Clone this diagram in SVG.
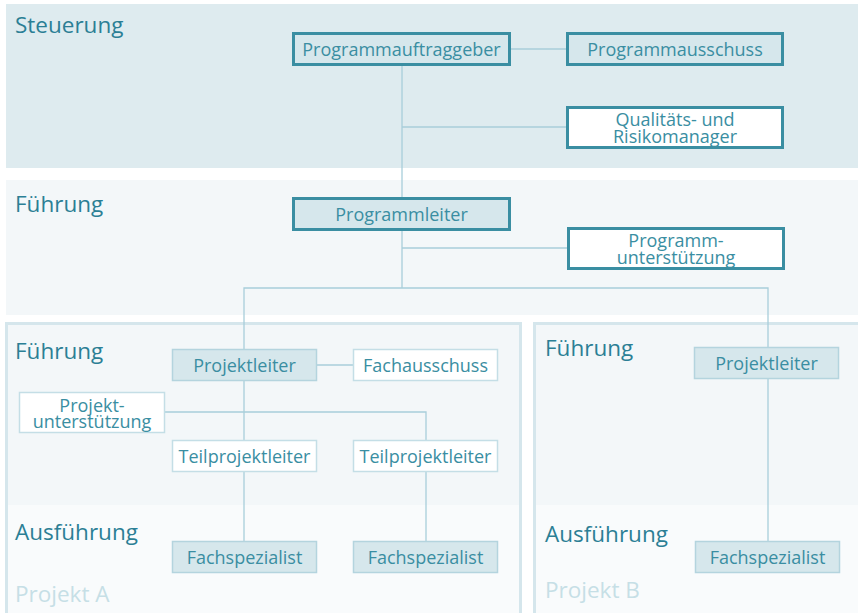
<svg xmlns="http://www.w3.org/2000/svg" width="858" height="613" viewBox="0 0 858 613">
<style>
text{font-family:"Open Sans","Noto Sans","DejaVu Sans",sans-serif;}
.h{font-size:22.5px;fill:#2b7f95;}
.pj{font-size:22.5px;fill:#c6dfe6;}
.t{font-size:18px;fill:#3a8ea2;text-anchor:middle;}
.t2{font-size:18px;fill:#3a8ea2;text-anchor:middle;}
.strong{fill:#d6e7ec;stroke:#3a8ea2;stroke-width:3;}
.strongw{fill:#ffffff;stroke:#3a8ea2;stroke-width:3;}
.soft{fill:#d6e7ec;stroke:#b4d4de;stroke-width:1.5;}
.softw{fill:#ffffff;stroke:#c4dee6;stroke-width:1.5;}
.ln{stroke:#a8ceda;stroke-width:1.3;fill:none;}
</style>
<rect width="858" height="613" fill="#ffffff"/>
<g id="bands">
<rect x="6" y="4" width="852" height="164" fill="#deebef"/>
<rect x="6" y="180" width="852" height="135" fill="#f3f7f9"/>
<rect x="6.5" y="323.5" width="514" height="300" fill="#f9fbfc" stroke="#d5e6ec" stroke-width="3"/>
<rect x="8" y="325" width="511" height="180" fill="#f3f7f9"/>
<rect x="534.5" y="323.5" width="330" height="300" fill="#f9fbfc" stroke="#d5e6ec" stroke-width="3"/>
<rect x="536" y="325" width="330" height="180" fill="#f3f7f9"/>
<text class="h" x="15" y="33">Steuerung</text>
<text class="h" x="15" y="212">Führung</text>
<text class="h" x="15" y="359">Führung</text>
<text class="h" x="15" y="540">Ausführung</text>
<text class="pj" x="15" y="602">Projekt A</text>
<text class="h" x="545" y="356">Führung</text>
<text class="h" x="545" y="542">Ausführung</text>
<text class="pj" x="545" y="598">Projekt B</text>
</g>
<g id="connectors">
<line class="ln" x1="510" y1="49" x2="566" y2="49"/>
<line class="ln" x1="402" y1="65" x2="402" y2="197"/>
<line class="ln" x1="402" y1="127" x2="566" y2="127"/>
<line class="ln" x1="402" y1="230" x2="402" y2="288"/>
<line class="ln" x1="402" y1="248" x2="567" y2="248"/>
<polyline class="ln" points="244,541 244,288 768,288 768,541"/>
<line class="ln" x1="316" y1="365" x2="353" y2="365"/>
<polyline class="ln" points="165,412 426,412 426,541"/>
</g>
<g id="programmauftraggeber"><rect class="strong" x="293.5" y="33.5" width="216" height="31"/><text class="t" x="401.5" y="55.5">Programmauftraggeber</text></g>
<g id="programmausschuss"><rect class="strong" x="567.5" y="33.5" width="215" height="31"/><text class="t" x="675" y="55.5">Programmausschuss</text></g>
<g id="qualitaet"><rect class="strongw" x="567.5" y="107.5" width="215" height="40"/><text class="t2" x="675" y="126">Qualitäts- und</text><text class="t2" x="675" y="143">Risikomanager</text></g>
<g id="programmleiter"><rect class="strong" x="293.5" y="198.5" width="216" height="31"/><text class="t" x="401.5" y="220.5">Programmleiter</text></g>
<g id="programmunterstuetzung"><rect class="strongw" x="568.5" y="228.5" width="215" height="40"/><text class="t2" x="676" y="247">Programm-</text><text class="t2" x="676" y="263.5">unterstützung</text></g>
<g id="projektleiter-a"><rect class="soft" x="172.5" y="349.5" width="144" height="31"/><text class="t" x="244.5" y="371.5">Projektleiter</text></g>
<g id="fachausschuss"><rect class="softw" x="353.5" y="349.5" width="144" height="31"/><text class="t" x="425.5" y="371.5">Fachausschuss</text></g>
<g id="projektunterstuetzung"><rect class="softw" x="19.5" y="392.5" width="145" height="40"/><text class="t2" x="92" y="411.5">Projekt-</text><text class="t2" x="92" y="428">unterstützung</text></g>
<g id="teilprojektleiter-1"><rect class="softw" x="172.5" y="440.5" width="144" height="31"/><text class="t" x="244.5" y="462.5">Teilprojektleiter</text></g>
<g id="teilprojektleiter-2"><rect class="softw" x="353.5" y="440.5" width="144" height="31"/><text class="t" x="425.5" y="462.5">Teilprojektleiter</text></g>
<g id="fachspezialist-1"><rect class="soft" x="172.5" y="541.5" width="144" height="31"/><text class="t" x="244.5" y="563.5">Fachspezialist</text></g>
<g id="fachspezialist-2"><rect class="soft" x="353.5" y="541.5" width="144" height="31"/><text class="t" x="425.5" y="563.5">Fachspezialist</text></g>
<g id="projektleiter-b"><rect class="soft" x="694.5" y="347.5" width="144" height="31"/><text class="t" x="766.5" y="369.5">Projektleiter</text></g>
<g id="fachspezialist-b"><rect class="soft" x="695.5" y="541.5" width="144" height="31"/><text class="t" x="767.5" y="563.5">Fachspezialist</text></g>
</svg>
